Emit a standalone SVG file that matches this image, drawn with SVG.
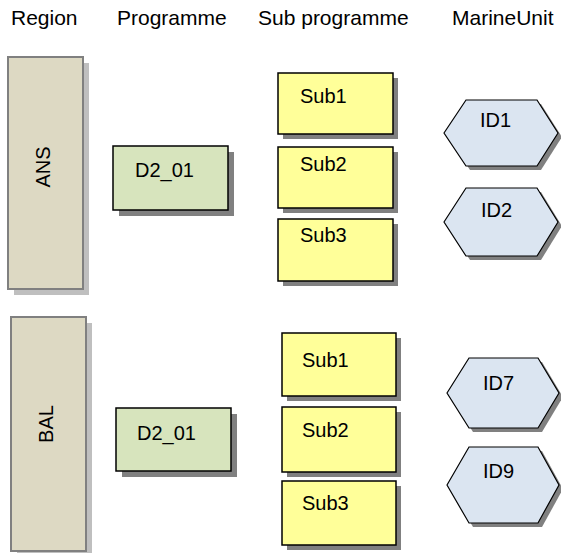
<svg xmlns="http://www.w3.org/2000/svg" width="561" height="553" viewBox="0 0 561 553">
<style>
text{font-family:"Liberation Sans",Arial,sans-serif;font-size:20px;fill:#000}
.hd{font-size:21px}
.reg{fill:#ddd9c3;stroke:#808080;stroke-width:2}
.regsh{fill:#bfbfbf}
.sh{fill:#808080}
.prog{fill:#d7e4bd;stroke:#000;stroke-width:1.5}
.sub{fill:#ffff99;stroke:#000;stroke-width:1.5}
.mu{fill:#dbe5f1;stroke:#000;stroke-width:1.2}
</style>
<rect width="561" height="553" fill="#fff"/>
<g id="headers">
<text class="hd" x="11" y="25">Region</text>
<text class="hd" x="117" y="25">Programme</text>
<text class="hd" x="258" y="25">Sub programme</text>
<text class="hd" x="452" y="25">MarineUnit</text>
</g>
<g id="region-ANS">
<rect class="regsh" x="14" y="63" width="75" height="232"/>
<rect class="reg" x="8" y="57" width="75" height="232"/>
<text transform="translate(50,167) rotate(-90)" text-anchor="middle">ANS</text>
</g>
<g id="region-BAL">
<rect class="regsh" x="17" y="323" width="75" height="234"/>
<rect class="reg" x="11" y="317" width="75" height="234"/>
<text transform="translate(53,424) rotate(-90)" text-anchor="middle">BAL</text>
</g>
<g id="prog-ANS">
<rect class="sh" x="119" y="152" width="115" height="64"/>
<rect class="prog" x="113" y="146" width="115" height="64"/>
<text x="135" y="177">D2_01</text>
</g>
<g id="prog-BAL">
<rect class="sh" x="122" y="414" width="115" height="63"/>
<rect class="prog" x="116" y="408" width="115" height="63"/>
<text x="137" y="440">D2_01</text>
</g>
<g id="sub1-ANS">
<rect class="sh" x="283" y="78" width="115" height="61"/>
<rect class="sub" x="278" y="73" width="115" height="61"/>
<text x="300" y="103">Sub1</text>
</g>
<g id="sub2-ANS">
<rect class="sh" x="283" y="152" width="115" height="61"/>
<rect class="sub" x="278" y="147" width="115" height="61"/>
<text x="300" y="171">Sub2</text>
</g>
<g id="sub3-ANS">
<rect class="sh" x="283" y="224" width="115" height="62"/>
<rect class="sub" x="278" y="219" width="115" height="62"/>
<text x="300" y="242">Sub3</text>
</g>
<g id="sub1-BAL">
<rect class="sh" x="287" y="338" width="114" height="63"/>
<rect class="sub" x="282" y="333" width="114" height="63"/>
<text x="302" y="367">Sub1</text>
</g>
<g id="sub2-BAL">
<rect class="sh" x="287" y="412" width="114" height="65"/>
<rect class="sub" x="282" y="407" width="114" height="65"/>
<text x="302" y="437">Sub2</text>
</g>
<g id="sub3-BAL">
<rect class="sh" x="287" y="486" width="114" height="64"/>
<rect class="sub" x="282" y="481" width="114" height="64"/>
<text x="302" y="510">Sub3</text>
</g>
<g id="mu-ID1">
<polygon class="sh" points="448,137 470,104 541,104 562,137 541,170 470,170"/>
<polygon class="mu" points="444,133 466,100 537,100 558,133 537,166 466,166"/>
<text x="480" y="127">ID1</text>
</g>
<g id="mu-ID2">
<polygon class="sh" points="448,226 470,192 541,192 562,226 541,260 470,260"/>
<polygon class="mu" points="444,222 466,188 537,188 558,222 537,256 466,256"/>
<text x="481" y="217">ID2</text>
</g>
<g id="mu-ID7">
<polygon class="sh" points="451,397 473,362 542,362 563,397 542,432 473,432"/>
<polygon class="mu" points="447,393 469,358 538,358 559,393 538,428 469,428"/>
<text x="483" y="390">ID7</text>
</g>
<g id="mu-ID9">
<polygon class="sh" points="451,489 473,451 542,451 563,489 542,527 473,527"/>
<polygon class="mu" points="447,485 469,447 538,447 559,485 538,523 469,523"/>
<text x="483" y="478">ID9</text>
</g>
<g id="connectors"></g>
</svg>
